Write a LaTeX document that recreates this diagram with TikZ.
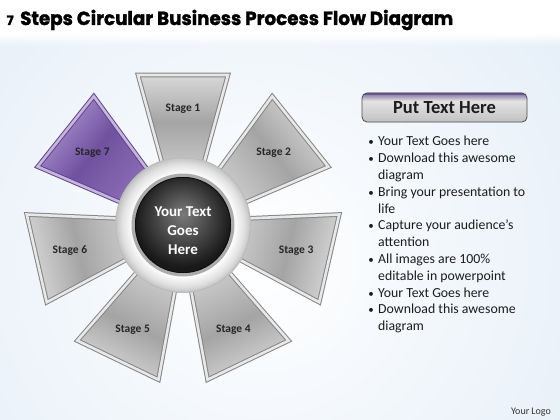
\documentclass[tikz,border=0pt]{standalone}
\usepackage{fontspec}
\setmainfont{Carlito}
\newfontfamily\titlefont{Poppins}[BoldFeatures={FakeBold=1.6}]
\usetikzlibrary{calc,fadings}
\definecolor{bgblue}{HTML}{CFE0F2}
\definecolor{wframe}{HTML}{858585}
\definecolor{wband}{HTML}{E8E8E8}
\definecolor{wtop}{HTML}{D8D8D8}
\definecolor{wmid}{HTML}{A4A4A4}
\definecolor{wbot}{HTML}{CACACA}
\definecolor{pframe}{HTML}{62458C}
\definecolor{pband}{HTML}{C6B5DD}
\definecolor{ptop}{HTML}{AD95D0}
\definecolor{pmid}{HTML}{7051A0}
\definecolor{pbot}{HTML}{8A6DB4}
\definecolor{txtdark}{HTML}{1C1C1C}
\definecolor{btnpurple}{HTML}{6A5890}
\pgfdeclareradialshading{ringshade}{\pgfpoint{0bp}{0bp}}{color(0bp)=(white); color(19bp)=(white); color(23bp)=(black!12); color(25bp)=(black!22); color(50bp)=(black!22)}
\pgfdeclareradialshading{darkball}{\pgfpoint{0bp}{6bp}}{color(0bp)=(black!52); color(12bp)=(black!70); color(25bp)=(black!90); color(50bp)=(black!90)}
\newlength\titlew
\settowidth\titlew{\titlefont\bfseries\fontsize{19}{19}\selectfont Steps Circular Business Process Flow Diagram}
\newcommand\stagewedge[2]{%
  \path[#2] ($(c)+(#1:150)+(#1+90:45)$) -- ($(c)+(#1:150)+(#1-90:45)$) -- ($(c)+(#1:55)+(#1-90:19)$) -- ($(c)+(#1:55)+(#1+90:19)$) -- cycle;}
\tikzset{
  gwedge/.style={shading=axis, top color=wtop, bottom color=wbot, middle color=wmid, shading angle=-#1-90,
     draw=wframe, double=wband, line width=1pt, double distance=2.6pt, line join=miter},
  pwedge/.style={shading=axis, top color=ptop, bottom color=pbot, middle color=pmid, shading angle=-#1-90,
     draw=pframe, double=pband, line width=1pt, double distance=2.6pt, line join=miter},
  stagelabel/.style={font=\bfseries\fontsize{11.5}{11.5}\selectfont, text=black!85},
  bul/.style={anchor=base west, inner sep=0pt, font=\fontsize{13.8}{13.8}\selectfont, text=txtdark},
  dot/.style={anchor=base, inner sep=0pt, font=\fontsize{11}{11}\selectfont, text=txtdark}
}
\begin{document}
\begin{tikzpicture}[x=1pt,y=-1pt]
\useasboundingbox (0,0) rectangle (560,420);
% background
\begin{scope}
\clip (0,0) rectangle (560,420);
\shade[inner color=white, outer color=bgblue] (-460,-460) rectangle (980,980);
\fill[white] (0,0) rectangle (560,34);
\fill[white, path fading=south] (0,34) rectangle (560,46);
\end{scope}
% title
\pgfmathsetmacro\tsx{433/\titlew}
\node[anchor=base west, inner sep=0pt] (seven) at (6.5,25) {\titlefont\bfseries\fontsize{13}{13}\selectfont 7};
\node[anchor=base west, inner sep=0pt] (title) at (20,25) {\scalebox{\tsx}[1]{\titlefont\bfseries\fontsize{19}{19}\selectfont Steps Circular Business Process Flow Diagram}};
% wedges
\coordinate (c) at (183,225);
\stagewedge{-90}{gwedge=-90}
\stagewedge{-38.5714}{gwedge=-38.5714}
\stagewedge{12.8571}{gwedge=12.8571}
\stagewedge{64.2857}{gwedge=64.2857}
\stagewedge{115.7143}{gwedge=115.7143}
\stagewedge{167.1429}{gwedge=167.1429}
\stagewedge{218.5714}{pwedge=218.5714}
% hub
\fill[black!26] (c) circle (68);
\shade[shading=ringshade] (c) circle (66.5);
\fill[black!33] (c) circle (51.5);
\shade[shading=darkball] (c) circle (48);
\draw[black!95, line width=0.8pt] (c) circle (47.6);
\node[align=center, text=white, font=\bfseries\fontsize{15}{19}\selectfont] (ctext) at (183,231) {Your Text\\Goes\\Here};
% stage labels
\node[stagelabel] (s1) at ($(c)+(-90:116)$) {Stage 1};
\node[stagelabel] (s2) at ($(c)+(-38.5714:116)$) {Stage 2};
\node[stagelabel] (s3) at ($(c)+(12.8571:116)$) {Stage 3};
\node[stagelabel] (s4) at ($(c)+(64.2857:116)$) {Stage 4};
\node[stagelabel] (s5) at ($(c)+(115.7143:116)$) {Stage 5};
\node[stagelabel] (s6) at ($(c)+(167.1429:116)$) {Stage 6};
\node[stagelabel] (s7) at ($(c)+(218.5714:116)$) {Stage 7};
% button
\path[rounded corners=5pt, top color=black!6, bottom color=black!24, draw=none] (362,93) rectangle (527,122);
\begin{scope}
\clip[rounded corners=5pt] (362,93) rectangle (527,122);
\fill[btnpurple, path fading=south] (360,92) rectangle (529,101);
\fill[btnpurple] (360,92) rectangle (529,95);
\end{scope}
\draw[rounded corners=5pt, draw=black!70, line width=0.8pt] (362,93) rectangle (527,122);
\node[font=\bfseries\fontsize{18.5}{18.5}\selectfont, text=txtdark] (btntext) at (444.5,108) {Put Text Here};
% bullet list
\node[dot] (d1) at (371,145.7) {\textbullet};
\node[bul] (l1) at (378,145.7) {Your Text Goes here};
\node[dot] (d2) at (371,162.5) {\textbullet};
\node[bul] (l2) at (378,162.5) {Download this awesome};
\node[bul] (l3) at (378,179.3) {diagram};
\node[dot] (d4) at (371,196.2) {\textbullet};
\node[bul] (l4) at (378,196.2) {Bring your presentation to};
\node[bul] (l5) at (378,213.0) {life};
\node[dot] (d6) at (371,229.8) {\textbullet};
\node[bul] (l6) at (378,229.8) {Capture your audience’s};
\node[bul] (l7) at (378,246.6) {attention};
\node[dot] (d8) at (371,263.4) {\textbullet};
\node[bul] (l8) at (378,263.4) {All images are 100\%};
\node[bul] (l9) at (378,280.2) {editable in powerpoint};
\node[dot] (d10) at (371,297.0) {\textbullet};
\node[bul] (l10) at (378,297.0) {Your Text Goes here};
\node[dot] (d11) at (371,313.9) {\textbullet};
\node[bul] (l11) at (378,313.9) {Download this awesome};
\node[bul] (l12) at (378,330.7) {diagram};
% logo
\node[anchor=base, inner sep=0pt, font=\fontsize{10}{10}\selectfont, text=black!80] (logo) at (531,414.5) {Your Logo};
\end{tikzpicture}
\end{document}
